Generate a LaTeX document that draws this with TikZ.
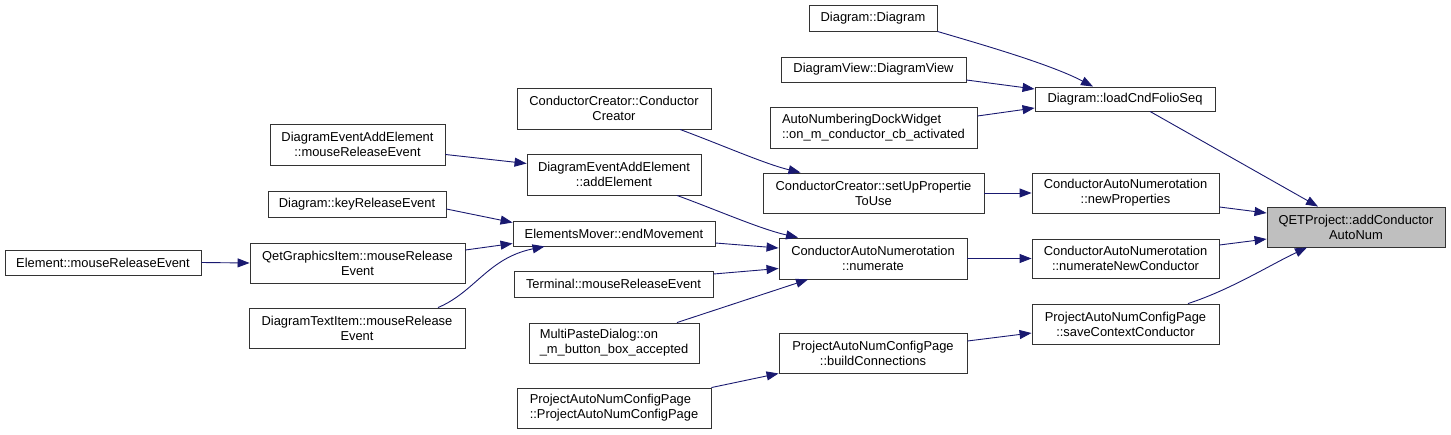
\documentclass[tikz,border=0pt]{standalone}
\usepackage{fontspec}
\setmainfont{Liberation Sans}
\usetikzlibrary{arrows.meta,calc}
\definecolor{edgeblue}{RGB}{25,25,112}
\definecolor{hl}{RGB}{191,191,191}
\begin{document}
\begin{tikzpicture}[x=1pt,y=-1pt,
  box/.style={draw=black!80, line width=0.9pt, fill=white, inner sep=0pt, align=center,
    font=\fontsize{12.9}{15}\selectfont, text=black},
  edge/.style={draw=edgeblue, line width=0.9pt, -{Triangle[length=12pt,width=9pt]}}]
\useasboundingbox (0,0) rectangle (1451,434);
% column 1
\node[box, minimum width=196pt, minimum height=25pt] (elem) at (103,262.5) {Element::mouseReleaseEvent};
% column 2
\node[box, minimum width=175pt, minimum height=41pt] (deaeMR) at (357.5,144.5) {DiagramEventAddElement\\::mouseReleaseEvent};
\node[box, minimum width=178pt, minimum height=26pt] (keyRel) at (357,204) {Diagram::keyReleaseEvent};
\node[box, minimum width=215pt, minimum height=40pt] (qgi) at (357.5,263) {QetGraphicsItem::mouseRelease\\Event};
\node[box, minimum width=216pt, minimum height=40pt] (dti) at (357,328) {DiagramTextItem::mouseRelease\\Event};
% column 3
\node[box, minimum width=194pt, minimum height=41pt] (ccCC) at (614,108.5) {ConductorCreator::Conductor\\Creator};
\node[box, minimum width=174pt, minimum height=41pt] (addEl) at (614,174.5) {DiagramEventAddElement\\::addElement};
\node[box, minimum width=202pt, minimum height=25pt] (emEnd) at (614,233.5) {ElementsMover::endMovement};
\node[box, minimum width=199pt, minimum height=26pt] (term) at (613.5,284) {Terminal::mouseReleaseEvent};
\node[box, minimum width=170pt, minimum height=40pt, align=left] (multi) at (614,343) {MultiPasteDialog::on\\\_m\_button\_box\_accepted};
\node[box, minimum width=194pt, minimum height=40pt, align=left] (pancp) at (614,408) {ProjectAutoNumConfigPage\\::ProjectAutoNumConfigPage};
% column 4
\node[box, minimum width=128pt, minimum height=26pt] (ddiag) at (873,18) {Diagram::Diagram};
\node[box, minimum width=185pt, minimum height=25pt] (dview) at (873.5,69.5) {DiagramView::DiagramView};
\node[box, minimum width=207pt, minimum height=41pt, align=left] (andw) at (873.5,127.5) {AutoNumberingDockWidget\\::on\_m\_conductor\_cb\_activated};
\node[box, minimum width=221pt, minimum height=40pt] (setup) at (873.5,193) {ConductorCreator::setUpPropertie\\ToUse};
\node[box, minimum width=188pt, minimum height=41pt] (numer) at (873,258.5) {ConductorAutoNumerotation\\::numerate};
\node[box, minimum width=188pt, minimum height=40pt] (build) at (873,353) {ProjectAutoNumConfigPage\\::buildConnections};
% column 5
\node[box, minimum width=180pt, minimum height=24pt] (load) at (1125,99) {Diagram::loadCndFolioSeq};
\node[box, minimum width=187pt, minimum height=40pt] (newP) at (1125.5,193) {ConductorAutoNumerotation\\::newProperties};
\node[box, minimum width=187pt, minimum height=39pt] (numNC) at (1125.5,258.5) {ConductorAutoNumerotation\\::numerateNewConductor};
\node[box, minimum width=187pt, minimum height=40pt] (save) at (1125.5,324) {ProjectAutoNumConfigPage\\::saveContextConductor};
% column 6
\node[box, fill=hl, minimum width=178pt, minimum height=40pt] (qet) at (1356,227) {QETProject::addConductor\\AutoNum};
% edges
\draw[edge] (elem.east) -- (qgi.west);
\draw[edge] ($(deaeMR.east)+(0,10)$) -- ($(addEl.west)+(0,-11)$);
\draw[edge] ($(keyRel.east)+(0,5)$) -- ($(emEnd.west)+(0,-11)$);
\draw[edge] ($(qgi.east)+(0,-13)$) -- ($(emEnd.west)+(0,10)$);
\draw[edge] ($(dti.north)+(81,0)$) .. controls (475,292) and (488,258) .. ($(emEnd.south west)+(32,0)$);
\draw[edge] ($(ccCC.south)+(66,0)$) .. controls (722,145) and (765,164) .. ($(setup.north)+(-73,0)$);
\draw[edge] ($(addEl.south)+(63,0)$) .. controls (717,210) and (760,229) .. ($(numer.north)+(-75,0)$);
\draw[edge] ($(emEnd.east)+(0,9.5)$) -- ($(numer.west)+(0,-10.5)$);
\draw[edge] ($(term.east)+(0,-10)$) -- ($(numer.west)+(0,10)$);
\draw[edge] ($(multi.north)+(63,0)$) -- ($(numer.south)+(-65,0)$);
\draw[edge] (pancp.north east) -- (build.south west);
\draw[edge] (ddiag.south east) .. controls (980,44) and (1050,64) .. ($(load.north)+(-32,0)$);
\draw[edge] ($(dview.east)+(0,10.5)$) -- ($(load.west)+(0,-10)$);
\draw[edge] ($(andw.east)+(0,-11.5)$) -- ($(load.west)+(0,9)$);
\draw[edge] (setup.east) -- (newP.west);
\draw[edge] (numer.east) -- (numNC.west);
\draw[edge] ($(build.east)+(0,-12)$) -- ($(save.west)+(0,9)$);
\draw[edge] ($(load.south)+(25,0)$) -- ($(qet.north)+(-38,0)$);
\draw[edge] ($(newP.east)+(0,14)$) -- ($(qet.west)+(0,-14)$);
\draw[edge] ($(numNC.east)+(0,-13.5)$) -- ($(qet.west)+(0,12)$);
\draw[edge] ($(save.north)+(62.5,0)$) .. controls (1230,290) and (1270,265) .. ($(qet.south)+(-49,0)$);
\end{tikzpicture}
\end{document}
